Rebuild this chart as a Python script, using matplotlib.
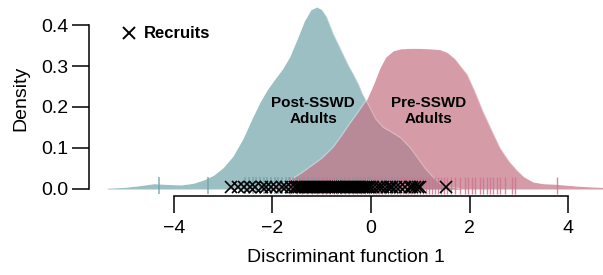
import matplotlib
matplotlib.use("Agg")
import matplotlib.pyplot as plt
from matplotlib.lines import Line2D

plt.rcParams["font.family"] = ["Liberation Sans", "DejaVu Sans"]

# density curves (x, density)
post_x = [-5.35, -5.0, -4.7, -4.4, -4.1, -3.85, -3.6, -3.4, -3.2, -3.0, -2.8,
          -2.6, -2.4, -2.25, -2.1, -1.95, -1.8, -1.65, -1.5, -1.35, -1.22,
          -1.1, -1.0, -0.9, -0.77, -0.65, -0.57, -0.45, -0.37, -0.25, -0.18,
          -0.05, 0.1, 0.25, 0.4, 0.6, 0.8, 0.95, 1.1, 1.26, 1.4, 1.6, 1.8]
post_y = [0.002, 0.004, 0.008, 0.013, 0.011, 0.010, 0.014, 0.022, 0.033, 0.052,
          0.080, 0.122, 0.175, 0.212, 0.243, 0.268, 0.292, 0.322, 0.365, 0.410,
          0.437, 0.444, 0.438, 0.420, 0.380, 0.350, 0.330, 0.300, 0.283, 0.255,
          0.234, 0.205, 0.170, 0.150, 0.140, 0.125, 0.100, 0.075, 0.050, 0.029,
          0.013, 0.004, 0.001]

pre_x = [-2.3, -2.0, -1.8, -1.6, -1.4, -1.24, -1.0, -0.77, -0.6, -0.43, -0.25,
         -0.08, 0.05, 0.18, 0.3, 0.45, 0.6, 0.8, 1.0, 1.2, 1.4, 1.55, 1.7, 1.85,
         1.95, 2.1, 2.27, 2.45, 2.62, 2.8, 2.96, 3.1, 3.29, 3.5, 3.7, 3.9, 4.2,
         4.5, 4.9]
pre_y = [0.001, 0.005, 0.012, 0.025, 0.040, 0.054, 0.075, 0.102, 0.130, 0.160,
         0.190, 0.220, 0.255, 0.295, 0.322, 0.337, 0.342, 0.343, 0.343, 0.342,
         0.340, 0.333, 0.318, 0.295, 0.280, 0.240, 0.190, 0.143, 0.100, 0.068,
         0.046, 0.030, 0.017, 0.013, 0.012, 0.010, 0.007, 0.005, 0.003]

# individual scores (rug)
post_rug = [-4.3, -3.3, -2.55, -2.48, -2.40, -2.33, -2.25, -2.17, -2.10, -2.02,
            -1.95, -1.88, -1.80, -1.73, -1.66, -1.58, -1.50, -1.43, -1.36,
            -1.28, -1.20, -1.13, -1.05, -0.98, -0.90, -0.83, -0.75, -0.68,
            -0.60, -0.52, -0.45, -0.37, -0.30, -0.22, -0.15, -0.07, 0.00,
            0.10, 0.20, 0.30, 0.42, 0.55, 0.70, 0.85]
pre_rug = [-1.65, -1.50, -1.40, -1.30, -1.20, -1.10, -1.00, -0.92, -0.84,
           -0.76, -0.68, -0.60, -0.52, -0.44, -0.36, -0.28, -0.20, -0.12,
           -0.04, 0.04, 0.10, 0.16, 0.22, 0.28, 0.34, 0.40, 0.46, 0.52, 0.58,
           0.64, 0.70, 0.76, 0.82, 0.88, 0.94, 1.00, 1.06, 1.12, 1.18, 1.24,
           1.30, 1.36, 1.42, 1.48, 1.55, 1.62, 1.70, 1.80, 1.90, 1.97, 2.05,
           2.11, 2.21, 2.27, 2.35, 2.41, 2.47, 2.56, 2.62, 2.72, 2.86, 2.92,
           3.77]
recruits = [-2.84, -2.70, -2.58, -2.45, -2.36, -2.22, -2.12, -2.02, -1.92,
            -1.80, -1.72, -1.62, -1.55, -1.50, -1.46, -1.42, -1.38, -1.34,
            -1.30, -1.26, -1.22, -1.18, -1.14, -1.10, -1.06, -1.02, -0.98,
            -0.94, -0.90, -0.86, -0.82, -0.78, -0.74, -0.70, -0.66, -0.62,
            -0.58, -0.54, -0.50, -0.46, -0.42, -0.38, -0.34, -0.30, -0.26,
            -0.22, -0.18, -0.14, -0.10, -0.06, -0.02, 0.04, 0.12, 0.18, 0.25,
            0.32, 0.38, 0.43, 0.50, 0.59, 0.69, 0.79, 0.84, 0.89, 0.95, 1.00,
            1.53]

TEAL = "#73a5ab"
PINK = "#c47384"

fig = plt.figure(figsize=(6.03, 2.75), dpi=100)
ax = fig.add_axes([89 / 603, 79 / 275, 514 / 603, 196 / 275])

ax.fill_between(post_x, post_y, color=TEAL, alpha=0.7, lw=0)
ax.plot(post_x, post_y, color="white", alpha=0.35, lw=0.8)
ax.fill_between(pre_x, pre_y, color=PINK, alpha=0.7, lw=0)
ax.plot(pre_x, pre_y, color="white", alpha=0.35, lw=0.8)

ax.vlines(post_rug, -0.012, 0.03, color="#6fa3a9", lw=1.1, alpha=0.85)
ax.vlines(pre_rug, -0.012, 0.03, color="#cc7590", lw=1.0, alpha=0.85)
ax.plot(recruits, [0.004] * len(recruits), "x", color="black", ms=9, mew=1.2)

ax.text(-1.17, 0.19, "Post-SSWD\nAdults", ha="center", va="center",
        fontsize=11, fontweight="bold", linespacing=1.25)
ax.text(1.16, 0.19, "Pre-SSWD\nAdults", ha="center", va="center",
        fontsize=11, fontweight="bold", linespacing=1.25)

handle = Line2D([], [], ls="none", marker="x", color="black", ms=8, mew=1.4)
leg = ax.legend([handle], ["Recruits"], loc="upper left",
                bbox_to_anchor=(0.064, 0.865), frameon=False, handlelength=0.8,
                handletextpad=0.5, borderaxespad=0, borderpad=0,
                prop={"weight": "bold", "size": 12})

ax.set_xlim(-5.72, 4.706)
ax.set_ylim(-0.0171, 0.461)
ax.spines["top"].set_visible(False)
ax.spines["right"].set_visible(False)
ax.spines["left"].set_bounds(0, 0.4)
ax.spines["bottom"].set_bounds(-4, 4)
for s in ("left", "bottom"):
    ax.spines[s].set_linewidth(1.1)
ax.set_xticks([-4, -2, 0, 2, 4])
ax.set_yticks([0, 0.1, 0.2, 0.3, 0.4])
ax.set_yticklabels(["0.0", "0.1", "0.2", "0.3", "0.4"])
ax.tick_params(length=12, width=1.1, labelsize=14, pad=3)
ax.tick_params(axis="x", pad=5)
ax.set_xlabel("Discriminant function 1", fontsize=14, labelpad=9)
ax.set_ylabel("Density", fontsize=14, labelpad=8)

fig.savefig("out.png", dpi=100, facecolor="white")
